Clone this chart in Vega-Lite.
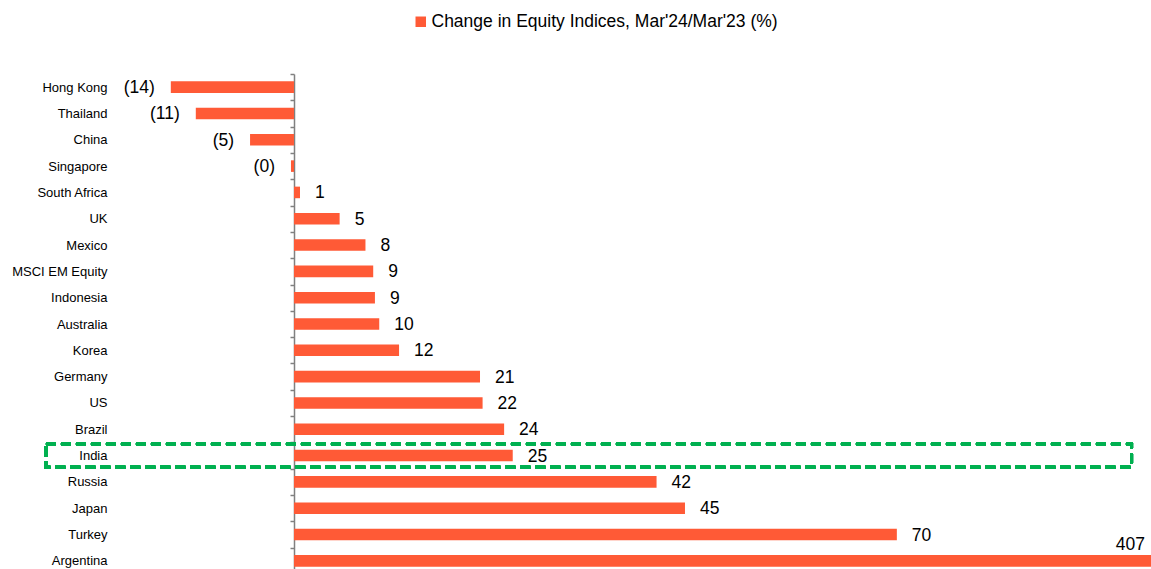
{
  "$schema": "https://vega.github.io/schema/vega-lite/v6.json",
  "autosize": {"type": "none"},
  "padding": {"left": 40, "top": 74, "right": 0, "bottom": 0},
  "width": 1111,
  "height": 495,
  "background": "white",
  "config": {
    "view": {"stroke": null},
    "font": "Liberation Sans",
    "text": {"font": "Liberation Sans"}
  },
  "data": {
    "values": [
      {"country": "Hong Kong", "value": -14.3, "label": "(14)"},
      {"country": "Thailand", "value": -11.4, "label": "(11)"},
      {"country": "China", "value": -5.1, "label": "(5)"},
      {"country": "Singapore", "value": -0.35, "label": "(0)"},
      {"country": "South Africa", "value": 0.7, "label": "1"},
      {"country": "UK", "value": 5.3, "label": "5"},
      {"country": "Mexico", "value": 8.3, "label": "8"},
      {"country": "MSCI EM Equity", "value": 9.2, "label": "9"},
      {"country": "Indonesia", "value": 9.4, "label": "9"},
      {"country": "Australia", "value": 9.9, "label": "10"},
      {"country": "Korea", "value": 12.2, "label": "12"},
      {"country": "Germany", "value": 21.6, "label": "21"},
      {"country": "US", "value": 21.9, "label": "22"},
      {"country": "Brazil", "value": 24.4, "label": "24"},
      {"country": "India", "value": 25.4, "label": "25"},
      {"country": "Russia", "value": 42.1, "label": "42"},
      {"country": "Japan", "value": 45.4, "label": "45"},
      {"country": "Turkey", "value": 70, "label": "70"},
      {"country": "Argentina", "value": 407, "label": "407"}
    ]
  },
  "encoding": {
    "y": {
      "field": "country",
      "type": "nominal",
      "sort": null,
      "scale": {"range": [0, 500], "paddingInner": 0, "paddingOuter": 0},
      "axis": {
        "title": null,
        "orient": "left",
        "offset": -254,
        "labelPadding": 183,
        "labelFont": "Liberation Sans",
        "labelFontSize": 13,
        "labelColor": "#000000",
        "domainColor": "#808080",
        "domainWidth": 1.5,
        "tickColor": "#808080",
        "tickWidth": 1.5,
        "tickSize": 4,
        "tickBand": "extent",
        "grid": false
      }
    }
  },
  "layer": [
    {
      "mark": {"type": "bar", "height": {"band": 0.44}},
      "encoding": {
        "x": {
          "field": "value",
          "type": "quantitative",
          "scale": {"domain": [-29.49, 99.51], "nice": false, "zero": false, "clamp": true},
          "axis": null
        },
        "color": {
          "datum": "Change in Equity Indices, Mar'24/Mar'23 (%)",
          "type": "nominal",
          "scale": {"range": ["#FF5A36"]},
          "legend": {
            "title": null,
            "orient": "none",
            "legendX": 372,
            "legendY": -61,
            "symbolType": "square",
            "symbolSize": 110,
            "symbolStrokeWidth": 0,
            "labelFont": "Liberation Sans",
            "labelFontSize": 17.5,
            "labelLimit": 600,
            "labelColor": "#000000",
            "labelOffset": 2
          }
        }
      }
    },
    {
      "transform": [{"filter": "datum.value >= 0 && datum.value < 100"}],
      "mark": {"type": "text", "align": "left", "baseline": "middle", "dx": 15, "dy": 1, "fontSize": 17.5, "color": "#000000"},
      "encoding": {
        "x": {"field": "value", "type": "quantitative"},
        "text": {"field": "label"}
      }
    },
    {
      "transform": [{"filter": "datum.value < 0"}],
      "mark": {"type": "text", "align": "right", "baseline": "middle", "dx": -16, "dy": 1, "fontSize": 17.5, "color": "#000000"},
      "encoding": {
        "x": {"field": "value", "type": "quantitative"},
        "text": {"field": "label"}
      }
    },
    {
      "transform": [{"filter": "datum.value >= 100"}],
      "mark": {"type": "text", "align": "right", "baseline": "middle", "dx": -6, "dy": -16, "fontSize": 17.5, "color": "#000000"},
      "encoding": {
        "x": {"field": "value", "type": "quantitative"},
        "text": {"field": "label"}
      }
    },
    {
      "mark": {
        "type": "bar",
        "height": {"band": 0.88},
        "fill": "transparent",
        "stroke": "#00B050",
        "strokeWidth": 3,
        "strokeDash": [10, 5]
      },
      "encoding": {
        "y": {"datum": "India"},
        "x": {"datum": -28.8, "type": "quantitative"},
        "x2": {"datum": 97.25}
      }
    }
  ]
}
